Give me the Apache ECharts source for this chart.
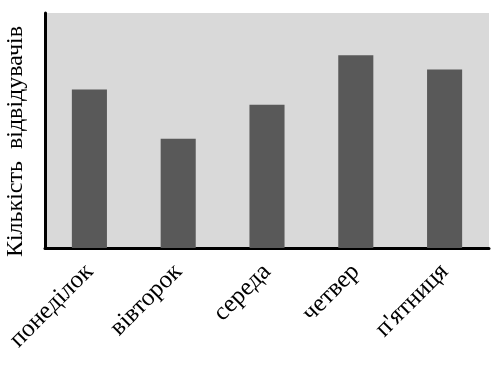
<!DOCTYPE html>
<html><head><meta charset="utf-8">
<script src="https://cdn.jsdelivr.net/npm/echarts@6/dist/echarts.min.js"></script>
<style>html,body{margin:0;padding:0;background:#fff}#c{width:501px;height:367px}</style>
</head><body><div id="c"></div>
<script>
const categories = ['понеділок', 'вівторок', 'середа', 'четвер', "п'ятниця"];
const visitors = [67.5, 46.5, 61, 82, 76];
const yTitle = 'Кількість  відвідувачів';

const chart = echarts.init(document.getElementById('c'), null, {renderer: 'canvas'});
chart.setOption({
  animation: false,
  grid: {left: 45, right: 12, top: 13, bottom: 119, show: true, backgroundColor: '#d9d9d9', borderWidth: 0, outerBoundsMode: 'none', containLabel: false},
  xAxis: {
    type: 'category', data: categories,
    axisLine: {show: true, lineStyle: {color: '#000', width: 3}},
    axisTick: {show: false},
    axisLabel: {rotate: 45, margin: 20, color: '#000', fontFamily: 'Liberation Serif', fontSize: 25, interval: 0}
  },
  yAxis: {
    type: 'value', min: 0, max: 100,
    name: yTitle, nameLocation: 'middle', nameGap: 17, nameRotate: 90,
    nameTextStyle: {fontFamily: 'Liberation Serif', fontSize: 24, color: '#000', padding: [0, 22, 0, 0]},
    axisLine: {show: true, lineStyle: {color: '#000', width: 3}},
    axisTick: {show: false}, axisLabel: {show: false}, splitLine: {show: false}
  },
  series: [{type: 'bar', data: visitors, barWidth: '39.5%', itemStyle: {color: '#595959'}}]
});
</script></body></html>
